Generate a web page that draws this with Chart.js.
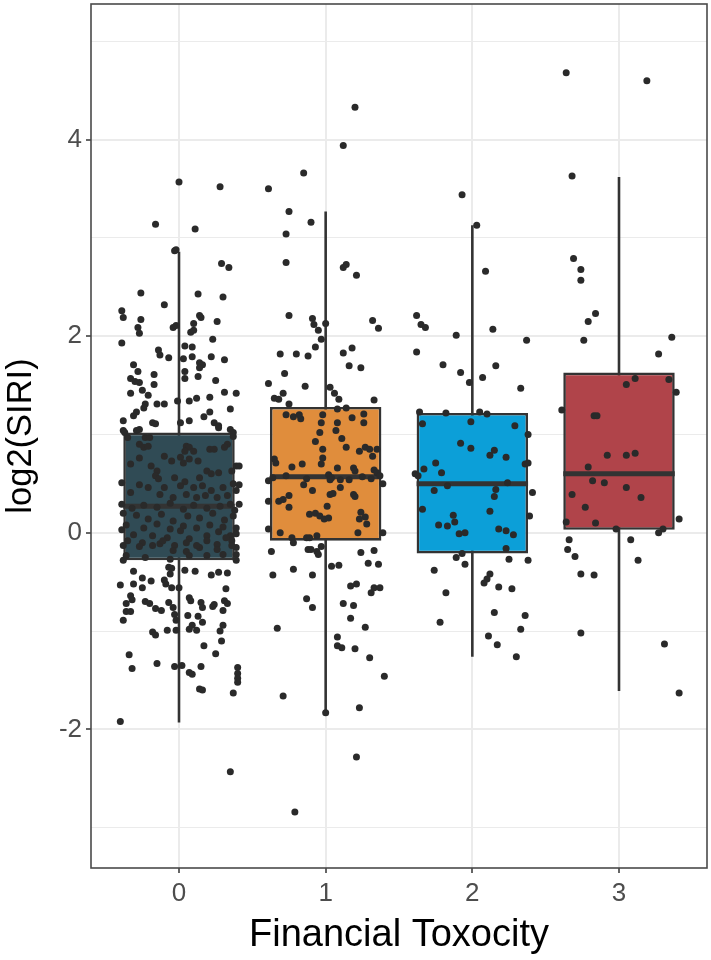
<!DOCTYPE html>
<html>
<head>
<meta charset="utf-8">
<script src="https://cdn.jsdelivr.net/npm/chart.js@4.4.1/dist/chart.umd.min.js"></script>
<style>
  body { margin: 0; background: #fff; }
  #wrap { width: 711px; height: 960px; }
</style>
</head>
<body>
<div id="wrap"><canvas id="boxChart" width="711" height="960"></canvas></div>
<script>
// categories and box statistics (log2 SIRI)
const groups = ['0', '1', '2', '3'];
const lowerWhisker = [-1.93, -1.84, -1.26, -1.61];
const q1 = [-0.28, -0.08, -0.21, 0.03];
const median = [0.27, 0.57, 0.50, 0.60];
const q3 = [1.02, 1.28, 1.22, 1.63];
const upperWhisker = [2.86, 3.27, 3.13, 3.62];
const boxColors = ['#304B55', '#E08D3C', '#0C9FD8', '#B0444A'];

// jittered observations, [x, log2(SIRI)]
const g0 = [
  [0.00,3.57],[0.28,3.52],[-0.16,3.14],[0.11,3.09],[-0.03,2.87],[-0.02,2.88],[0.29,2.74],[0.34,2.70],[-0.26,2.44],[0.13,2.43],
  [0.30,2.40],[-0.10,2.32],[-0.39,2.26],[-0.38,2.19],[-0.26,2.17],[0.14,2.21],[0.15,2.19],[0.26,2.15],[-0.28,2.09],[-0.27,2.03],
  [-0.04,2.09],[-0.02,2.11],[0.10,2.13],[0.08,2.04],[0.10,2.06],[0.23,1.97],[-0.39,1.93],[0.04,1.90],[0.09,1.89],[-0.14,1.86],
  [-0.13,1.81],[-0.07,1.78],[0.03,1.77],[0.09,1.79],[0.22,1.79],[0.31,1.76],[-0.31,1.71],[0.14,1.73],[0.16,1.71],[0.14,1.68],
  [-0.28,1.64],[-0.33,1.57],[-0.27,1.53],[-0.30,1.54],[-0.17,1.61],[-0.17,1.51],[0.04,1.64],[0.04,1.57],[0.13,1.59],[0.25,1.55],
  [-0.25,1.45],[-0.33,1.42],[-0.21,1.40],[0.31,1.43],[0.39,1.42],[0.21,1.38],[0.12,1.37],[0.07,1.34],[-0.01,1.34],[-0.23,1.31],
  [-0.15,1.31],[-0.10,1.31],[-0.29,1.23],[-0.31,1.19],[-0.24,1.27],[0.21,1.23],[0.17,1.18],[0.35,1.26],[-0.38,1.14],[-0.18,1.12],
  [-0.16,1.11],[0.07,1.14],[0.01,1.12],[0.24,1.12],[0.27,1.09],[0.27,1.07],
  [-0.38,1.04],[-0.37,1.02],[-0.29,1.04],[-0.35,0.97],[-0.27,1.05],[0.35,1.05],[0.37,1.02],[0.37,0.98],
  [-0.23,0.97],[-0.20,0.97],[-0.27,0.90],[-0.24,0.87],[-0.21,0.88],[0.05,0.88],[0.07,0.87],[0.04,0.83],[0.10,0.83],[0.21,0.85],
  [0.24,0.85],[0.33,0.90],[0.31,0.87],[-0.10,0.78],[-0.05,0.73],[0.01,0.77],[0.03,0.71],[0.07,0.75],[0.13,0.73],[-0.33,0.70],
  [-0.27,0.76],[0.39,0.68],[0.36,0.63],[-0.19,0.68],[-0.15,0.63],[-0.16,0.58],[-0.14,0.55],[0.19,0.63],[0.22,0.60],[0.27,0.61],
  [0.14,0.56],[-0.03,0.56],[0.04,0.52],
  [-0.39,0.51],[-0.27,0.49],[-0.21,0.46],[-0.10,0.46],[0.01,0.48],[0.10,0.46],[0.16,0.48],[0.22,0.43],[0.30,0.46],[0.37,0.50],
  [0.39,0.43],[-0.33,0.41],[-0.13,0.39],[-0.04,0.36],[0.05,0.39],[0.12,0.36],[0.18,0.38],[0.26,0.36],[0.33,0.38],
  [-0.39,0.29],[-0.32,0.25],[-0.24,0.28],[-0.15,0.26],[-0.06,0.30],[0.03,0.24],[0.10,0.28],[0.19,0.25],[0.28,0.27],[0.35,0.29],
  [0.38,0.23],[-0.38,0.20],[-0.29,0.18],[-0.21,0.14],[-0.12,0.19],[-0.04,0.12],[0.06,0.17],[0.14,0.15],[0.23,0.20],[0.31,0.13],
  [0.37,0.17],[-0.36,0.08],[-0.24,0.05],[-0.15,0.09],[-0.06,0.04],[0.03,0.07],[0.12,0.05],[0.21,0.08],[0.30,0.06],[0.39,0.05],
  [-0.39,0.03],[-0.31,-0.02],[-0.18,-0.03],[-0.08,-0.05],[0.01,0.02],[0.07,-0.06],[0.19,-0.03],[0.27,0.01],[0.35,-0.03],[0.39,-0.01],
  [-0.35,-0.08],[-0.25,-0.10],[-0.13,-0.11],[-0.03,-0.13],[0.05,-0.10],[0.14,-0.15],[0.26,-0.12],[0.36,-0.08],[0.39,-0.15],
  [-0.38,-0.13],[-0.36,-0.23],[-0.27,-0.14],[-0.18,-0.13],[-0.11,-0.08],[-0.04,-0.18],[0.05,-0.19],[0.12,-0.13],[0.19,-0.08],[0.26,-0.17],
  [0.32,-0.05],[0.36,-0.13],[0.39,-0.22],[-0.38,-0.28],[-0.23,-0.25],[-0.06,-0.27],[0.07,-0.23],[0.19,-0.23],[0.30,-0.22],[0.39,-0.28],
  [-0.31,-0.39],[-0.06,-0.42],[-0.07,-0.35],[-0.05,-0.36],[0.04,-0.38],[0.11,-0.39],[0.22,-0.43],[0.27,-0.40],[0.33,-0.41],
  [-0.40,-0.53],[-0.31,-0.52],[-0.25,-0.46],[-0.25,-0.56],[-0.19,-0.49],[-0.10,-0.48],[-0.09,-0.52],[-0.05,-0.56],[0.00,-0.56],[0.32,-0.57],
  [-0.33,-0.64],[-0.32,-0.68],[-0.36,-0.72],[-0.36,-0.80],[-0.38,-0.89],[-0.33,-0.80],
  [-0.23,-0.70],[-0.20,-0.72],[-0.16,-0.77],[-0.12,-0.79],[-0.07,-0.71],[-0.04,-0.76],[-0.03,-0.83],[-0.02,-0.89],
  [0.07,-0.66],[0.08,-0.69],[0.15,-0.71],[0.16,-0.76],[0.23,-0.75],[0.24,-0.73],[0.31,-0.69],[0.33,-0.72],[0.30,-0.79],
  [0.06,-0.84],[0.13,-0.85],[0.16,-0.91],[0.09,-0.94],[0.07,-0.98],[0.12,-0.99],[0.30,-0.94],[0.28,-1.00],[0.29,-1.10],
  [-0.18,-1.01],[-0.16,-1.04],[-0.08,-0.99],[-0.02,-0.99],[0.17,-1.15],[0.25,-1.23],[-0.34,-1.24],[-0.32,-1.38],[-0.15,-1.33],
  [-0.03,-1.36],[0.02,-1.35],[0.07,-1.42],[0.09,-1.44],[0.15,-1.36],[0.14,-1.59],[0.16,-1.60],
  [0.40,-1.37],[0.40,-1.43],[0.40,-1.48],[0.40,-1.52],[0.37,-1.63],[-0.40,-1.92],[0.35,-2.43],
  [0.41,0.68],[0.41,0.49],[0.41,0.29]
];
const g1 = [
  [1.20,4.33],[1.12,3.94],[0.85,3.66],[0.61,3.50],[0.75,3.27],[0.90,3.16],[0.73,3.04],[0.73,2.75],[1.12,2.70],[1.14,2.73],
  [1.21,2.62],[0.75,2.21],[0.91,2.18],[0.92,2.12],[0.95,2.06],[1.00,2.13],[1.32,2.16],[1.36,2.08],[0.97,1.97],[0.93,1.89],
  [0.88,1.80],[0.69,1.82],[0.80,1.82],[1.12,1.83],[1.18,1.88],[1.16,1.70],[1.24,1.68],[0.72,1.62],[0.61,1.52],[0.86,1.49],
  [0.71,1.42],[0.65,1.37],[0.68,1.36],[1.03,1.48],[1.06,1.42],[1.09,1.36],[0.75,1.31],[1.33,1.35],[1.08,1.26],[1.14,1.27],
  [0.73,1.20],[0.78,1.18],[0.83,1.16],[0.82,1.20],[0.98,1.20],[0.97,1.12],[1.18,1.17],[1.26,1.21],[1.26,1.12],[1.08,1.12],
  [1.07,1.04],[0.96,1.02],[0.93,0.93],[1.11,0.96],[1.14,0.87],[0.98,0.85],[1.23,0.83],[1.27,0.87],[1.30,0.85],[1.32,0.78],
  [1.35,0.85],[0.65,0.75],[0.66,0.71],[0.98,0.76],[0.97,0.70],[0.77,0.67],[0.84,0.70],[1.08,0.66],[1.19,0.66],[1.20,0.63],
  [1.33,0.64],[1.35,0.61],[0.64,0.56],[0.73,0.58],[0.87,0.55],[1.02,0.59],[1.04,0.56],[1.25,0.57],[1.31,0.55],[1.37,0.58],
  [0.61,0.53],[0.85,0.49],[1.03,0.54],[1.10,0.54],[1.16,0.54],[1.39,0.50],[0.91,0.43],[0.75,0.38],[0.68,0.32],[0.71,0.34],
  [0.75,0.26],[1.03,0.39],[1.05,0.40],[1.10,0.46],[1.19,0.39],[1.20,0.37],[0.61,0.32],[1.01,0.27],[0.89,0.19],[0.93,0.20],
  [0.96,0.17],[0.99,0.14],[1.02,0.15],[1.24,0.21],[1.27,0.16],[1.28,0.09],[1.23,0.14],[0.61,0.04],[0.69,0.00],[0.77,-0.05],
  [0.87,-0.05],[0.94,-0.03],[1.22,0.00],[1.39,0.00],[0.78,-0.10],[0.89,-0.05],[0.88,-0.17],[0.90,-0.17],[0.94,-0.19],[0.95,-0.22],
  [0.97,-0.14],[0.63,-0.19],[1.24,-0.20],[1.33,-0.18],[1.04,-0.34],[1.09,-0.33],[1.29,-0.31],[1.36,-0.32],[0.78,-0.37],[0.64,-0.43],
  [0.91,-0.43],[1.17,-0.54],[1.21,-0.52],[1.31,-0.61],[1.33,-0.56],[1.37,-0.56],[0.87,-0.67],[0.91,-0.76],[1.12,-0.72],[1.19,-0.74],
  [1.17,-0.87],[0.67,-0.97],[1.27,-0.96],[1.08,-1.06],[1.08,-1.15],[1.11,-1.17],[1.20,-1.18],[1.30,-1.27],[1.40,-1.46],[0.71,-1.66],
  [1.00,-1.83],[1.23,-1.78],[1.21,-2.28],[0.79,-2.84]
];
const g2 = [
  [1.93,3.44],[2.03,3.13],[2.09,2.66],[1.62,2.21],[1.65,2.12],[1.68,2.09],[1.89,2.01],[2.14,2.07],[2.37,1.96],[1.62,1.84],
  [1.80,1.71],[2.16,1.70],[1.92,1.63],[1.98,1.53],[2.07,1.58],[2.33,1.47],[1.64,1.23],[1.82,1.22],[2.05,1.23],[2.10,1.21],
  [1.66,1.11],[1.99,1.13],[2.29,1.09],[2.38,1.00],[1.92,0.91],[1.99,0.86],[2.12,0.79],[2.15,0.84],[2.23,0.77],[2.36,0.70],
  [2.38,0.71],[1.75,0.71],[1.67,0.65],[1.61,0.60],[1.63,0.58],[1.79,0.61],[2.24,0.51],[2.16,0.44],[1.83,0.48],[1.74,0.43],
  [2.41,0.41],[2.15,0.37],[1.66,0.24],[2.12,0.22],[2.39,0.17],[1.87,0.18],[1.88,0.11],[1.83,0.07],[1.77,0.08],[1.91,-0.01],
  [1.95,0.00],[2.18,0.04],[2.23,0.02],[2.28,-0.02],[2.23,-0.16],[1.93,-0.21],[1.89,-0.25],[1.95,-0.32],[2.25,-0.27],[2.38,-0.28],
  [1.74,-0.38],[2.12,-0.42],[2.10,-0.47],[2.08,-0.51],[2.18,-0.55],[2.27,-0.57],[1.82,-0.61],[2.15,-0.81],[2.36,-0.84],[1.78,-0.91],
  [2.33,-0.98],[2.11,-1.05],[2.17,-1.14],[2.30,-1.26]
];
const g3 = [
  [2.64,4.68],[3.19,4.60],[2.68,3.63],[2.69,2.79],[2.74,2.68],[2.74,2.57],[2.84,2.23],[2.79,2.15],[2.76,1.96],[3.36,1.99],
  [3.27,1.82],[3.11,1.57],[3.05,1.51],[3.34,1.56],[3.39,1.43],[2.61,1.25],[2.83,1.19],[2.85,1.19],[2.92,0.79],[3.05,0.79],
  [3.11,0.81],[2.79,0.67],[2.82,0.53],[2.90,0.51],[3.05,0.46],[2.68,0.39],[3.15,0.36],[2.77,0.26],[2.64,0.11],[2.84,0.10],
  [3.41,0.14],[2.98,0.04],[3.27,0.00],[3.30,0.04],[2.66,-0.07],[2.65,-0.17],[2.70,-0.24],[3.08,-0.07],[3.13,-0.28],[2.74,-0.42],
  [2.83,-0.43],[2.74,-1.02],[3.31,-1.13],[3.41,-1.63]
];

const boxHalf = 0.38;
const ink = '#333333';
const gridGrey = '#EBEBEB';

const toXY = p => ({ x: p[0], y: p[1] });
const allPoints = [].concat(g0, g1, g2, g3).map(toXY);

const datasets = [];

// jittered points on top
datasets.push({
    type: 'scatter',
    data: allPoints,
    backgroundColor: '#2A2A2A',
    borderWidth: 0,
    pointRadius: 3.5,
    order: 0
});

// median bars
groups.forEach((g, i) => {
    datasets.push({
        type: 'line',
        data: [{ x: i - boxHalf, y: median[i] }, { x: i + boxHalf, y: median[i] }],
        borderColor: ink,
        borderWidth: 5,
        pointRadius: 0,
        order: 1
    });
});

// boxes (q1..q3)
datasets.push({
    type: 'bar',
    data: groups.map((g, i) => ({ x: i, y: [q1[i], q3[i]] })),
    backgroundColor: boxColors,
    borderColor: ink,
    borderWidth: 2.6,
    borderSkipped: false,
    categoryPercentage: 1,
    barPercentage: boxHalf * 2,
    order: 2
});

// whiskers
groups.forEach((g, i) => {
    datasets.push({
        type: 'line',
        data: [{ x: i, y: lowerWhisker[i] }, { x: i, y: upperWhisker[i] }],
        borderColor: ink,
        borderWidth: 2.6,
        pointRadius: 0,
        order: 3
    });
});

// full panel border like theme_bw
const panelBorder = {
    id: 'panelBorder',
    afterDatasetsDraw(chart) {
        const { ctx, chartArea } = chart;
        ctx.save();
        ctx.strokeStyle = '#4A4A4A';
        ctx.lineWidth = 1.6;
        ctx.strokeRect(chartArea.left, chartArea.top, chartArea.right - chartArea.left, chartArea.bottom - chartArea.top);
        ctx.restore();
    }
};

const tickFont = { family: 'Liberation Sans, Arial, sans-serif', size: 26 };

new Chart(document.getElementById('boxChart').getContext('2d'), {
    type: 'scatter',
    data: { datasets: datasets },
    options: {
        responsive: false,
        animation: false,
        layout: { padding: { top: 2, right: 3, left: 0, bottom: 0 } },
        plugins: {
            legend: { display: false },
            tooltip: { enabled: false }
        },
        scales: {
            x: {
                type: 'linear',
                min: -0.6,
                max: 3.6,
                offset: false,
                border: { display: false },
                grid: {
                    offset: false,
                    color: gridGrey,
                    lineWidth: 2,
                    tickColor: ink,
                    tickLength: 5,
                    tickWidth: 1.5
                },
                ticks: {
                    stepSize: 1,
                    includeBounds: false,
                    padding: 5,
                    color: '#4D4D4D',
                    font: tickFont,
                    callback: v => groups[v] !== undefined ? groups[v] : ''
                },
                title: {
                    display: true,
                    text: 'Financial Toxocity',
                    color: '#000',
                    font: { family: 'Liberation Sans, Arial, sans-serif', size: 38 },
                    padding: { top: 0, bottom: 2 }
                },
                afterFit(scale) {
                    scale.height = 92;
                    scale.paddingLeft = 0;
                    scale.paddingRight = 0;
                }
            },
            y: {
                type: 'linear',
                min: -3.41,
                max: 5.38,
                border: { display: false },
                grid: {
                    color: gridGrey,
                    lineWidth: c => (c.tick && c.tick.value % 2 === 0) ? 2 : 1,
                    tickColor: c => (c.tick && c.tick.value % 2 === 0) ? ink : 'rgba(0,0,0,0)',
                    tickLength: 5,
                    tickWidth: 1.5
                },
                ticks: {
                    stepSize: 1,
                    includeBounds: false,
                    padding: 4,
                    color: '#4D4D4D',
                    font: tickFont,
                    callback: v => v % 2 === 0 ? String(v) : ''
                },
                title: {
                    display: true,
                    text: 'log2(SIRI)',
                    color: '#000',
                    font: { family: 'Liberation Sans, Arial, sans-serif', size: 34.5 },
                    padding: { top: 1, bottom: 0 }
                },
                afterFit(scale) {
                    scale.width = 91;
                    scale.paddingTop = 0;
                    scale.paddingBottom = 0;
                }
            }
        }
    },
    plugins: [panelBorder]
});
</script>
</body>
</html>
